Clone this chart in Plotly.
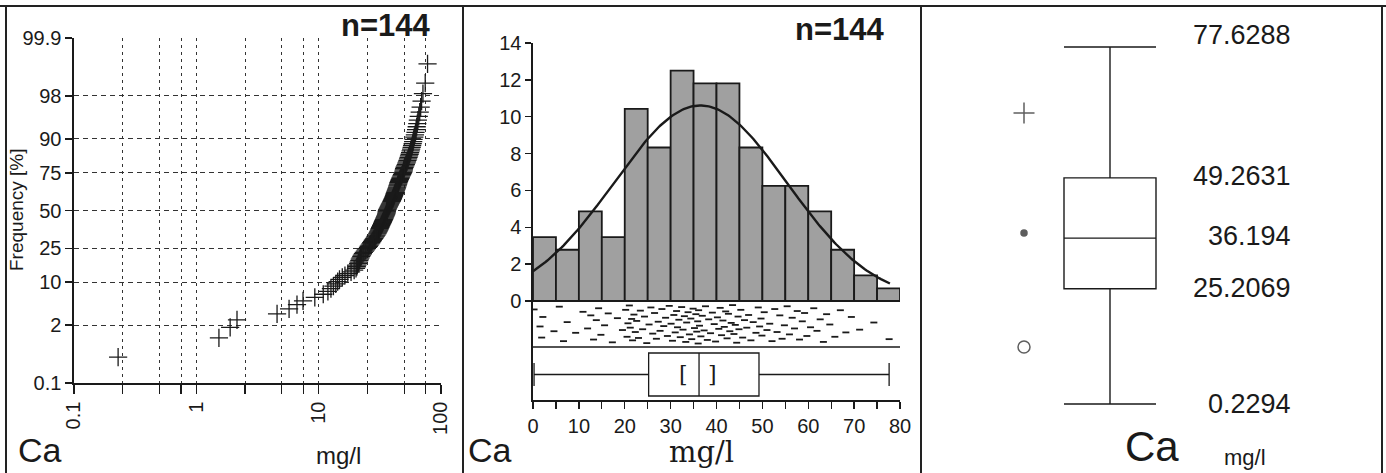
import numpy as np
import plotly.graph_objects as go
from statistics import NormalDist

W, H = 1386, 473

# ---------------- data ----------------
# 144 Ca concentrations (mg/l), read from the probability plot / histogram
ca_values = [
    0.2294, 1.53, 1.89, 2.15, 4.57,
    5.73, 6.65, 7.45, 9.3,
    10.9, 11.9, 12.6, 13.2, 13.8, 14.3, 14.8,
    15.6, 16.4, 17.3, 18.4, 19.5,
    20.2, 20.5, 20.7, 21.0, 21.2, 21.5, 21.7, 22.0, 22.3, 22.6, 23.0, 23.4, 23.9, 24.3, 24.8,
    25.3, 25.7, 26.1, 26.5, 26.9, 27.3, 27.7, 28.1, 28.5, 28.9, 29.3, 29.7,
    30.1, 30.4, 30.7, 31.0, 31.3, 31.5, 31.8, 32.1, 32.4, 32.7, 33.0, 33.3, 33.5, 33.8, 34.1, 34.4, 34.6, 34.9,
    35.2, 35.5, 35.7, 35.9, 36.0, 36.1, 36.29, 36.6, 36.9, 37.3, 37.6, 38.0, 38.3, 38.7, 39.1, 39.5, 39.8,
    40.2, 40.5, 40.8, 41.1, 41.4, 41.7, 42.0, 42.3, 42.6, 42.9, 43.2, 43.5, 43.8, 44.1, 44.4, 44.7, 44.9,
    45.3, 45.7, 46.1, 46.6, 47.0, 47.5, 48.0, 48.6, 49.1, 49.4, 49.7, 49.9,
    50.4, 51.0, 51.6, 52.1, 52.7, 53.2, 53.8, 54.3, 54.8,
    55.4, 55.9, 56.5, 57.0, 57.6, 58.1, 58.7, 59.2, 59.7,
    60.5, 61.2, 61.9, 62.6, 63.3, 64.0, 64.7,
    65.8, 67.0, 68.2, 69.4,
    71.2, 74.3,
    77.6288,
]

# vertical scatter of the dot strip (fraction of strip height)
strip_jitter = [
    0.12, 0.55, 0.83, 0.31, 0.67, 0.05, 0.92, 0.44, 0.71, 0.18,
    0.60, 0.27, 0.88, 0.39, 0.09, 0.76, 0.52, 0.22, 0.95, 0.34,
    0.64, 0.13, 0.81, 0.47, 0.02, 0.58, 0.36, 0.90, 0.25, 0.69,
    0.41, 0.84, 0.15, 0.62, 0.30, 0.97, 0.50, 0.07, 0.73, 0.21,
    0.86, 0.43, 0.66, 0.11, 0.54, 0.33, 0.79, 0.03, 0.48, 0.91,
    0.26, 0.70, 0.16, 0.57, 0.38, 0.82, 0.06, 0.63, 0.29, 0.94,
    0.45, 0.19, 0.75, 0.35, 0.87, 0.10, 0.59, 0.24, 0.68, 0.42,
    0.98, 0.14, 0.53, 0.80, 0.28, 0.65, 0.04, 0.89, 0.37, 0.72,
    0.20, 0.49, 0.93, 0.32, 0.61, 0.08, 0.77, 0.40, 0.56, 0.17,
    0.85, 0.23, 0.67, 0.46, 0.01, 0.74, 0.51, 0.96, 0.30, 0.62,
    0.13, 0.83, 0.39, 0.58, 0.26, 0.90, 0.44, 0.71, 0.07, 0.55,
    0.35, 0.78, 0.19, 0.64, 0.48, 0.92, 0.11, 0.69, 0.27, 0.86,
    0.52, 0.04, 0.75, 0.33, 0.60, 0.16, 0.88, 0.42, 0.21, 0.79,
    0.57, 0.09, 0.66, 0.37, 0.94, 0.24, 0.50, 0.81, 0.14, 0.70,
    0.31, 0.63, 0.45, 0.87,
]

prob_ticks = [0.1, 2, 10, 25, 50, 75, 90, 98, 99.9]
prob_tick_labels = ["0.1", "2", "10", "25", "50", "75", "90", "98", "99.9"]
log_grid = [0.1, 0.25, 0.5, 0.75, 1, 2.5, 5, 7.5, 10, 25, 50, 75, 100]
log_labels = ["0.1", "", "", "", "1", "", "", "", "10", "", "", "", "100"]

bin_left = [0, 5, 10, 15, 20, 25, 30, 35, 40, 45, 50, 55, 60, 65, 70, 75]
hist_pct = [3.47, 2.78, 4.86, 3.47, 10.42, 8.33, 12.5, 11.81,
            11.81, 8.33, 6.25, 6.25, 4.86, 2.78, 1.39, 0.69]
bin_width = 5
hist_yticks = [0, 2, 4, 6, 8, 10, 12, 14]
hist_xticks = [0, 5, 10, 15, 20, 25, 30, 35, 40, 45, 50, 55, 60, 65, 70, 75, 80]
hist_xlabels = ["0", "", "10", "", "20", "", "30", "", "40", "", "50", "", "60", "", "70", "", "80"]

norm_mean = 36.5
norm_sd = 18.8

box_min, box_q1, box_median, box_q3, box_max = 0.2294, 25.2069, 36.194, 49.2631, 77.6288
median_ci = [32.7, 39.1]
side_marker_values = [63.3, 37.3, 12.6]
side_marker_symbols = ["cross-thin-open", "circle", "circle-open"]

n_label = "n=144"
element = "Ca"
unit = "mg/l"

# ---------------- styling ----------------
SANS = "Liberation Sans, Arial, sans-serif"
SERIF = "DejaVu Serif, Liberation Serif, serif"
INK = "#1a1a1a"


def px(x):
    return x / W


def py(y):
    return 1 - y / H


fig = go.Figure()

# ---------- left: probability plot ----------
nd = NormalDist()
vals_sorted = sorted(ca_values)
n = len(vals_sorted)
zpos = [nd.inv_cdf((i + 1 - 0.375) / (n + 0.25)) for i in range(n)]
fig.add_trace(go.Scatter(
    x=vals_sorted, y=zpos, mode="markers", xaxis="x", yaxis="y",
    marker=dict(symbol="cross-thin-open", size=13, color=INK, line=dict(width=1.3, color=INK)),
    hoverinfo="skip"))

zt = [nd.inv_cdf(p / 100) for p in prob_ticks]

# ---------- middle: histogram ----------
centers = [b + bin_width / 2 for b in bin_left]
fig.add_trace(go.Bar(
    x=centers, y=hist_pct, width=bin_width, xaxis="x2", yaxis="y2",
    marker=dict(color="#a0a0a0", line=dict(color=INK, width=1.8)),
    hoverinfo="skip"))

xs = np.linspace(0, 77.8, 200)
dens = 100 * bin_width * np.exp(-0.5 * ((xs - norm_mean) / norm_sd) ** 2) / (norm_sd * np.sqrt(2 * np.pi))
fig.add_trace(go.Scatter(x=xs, y=dens, mode="lines", xaxis="x2", yaxis="y2",
                         line=dict(color=INK, width=2.4), hoverinfo="skip"))

# middle axis geometry (pixel anchors)
mid_zero_px, mid_top_px, mid_bot_px = 301, 43, 400
units_per_px = 14 / (mid_zero_px - mid_top_px)
y2_min = -(mid_bot_px - mid_zero_px) * units_per_px
strip_bottom = -(347 - mid_zero_px) * units_per_px
strip_y = [-0.2 + f * (-2.15) for f in strip_jitter]
fig.add_trace(go.Scatter(
    x=ca_values, y=strip_y, mode="markers", xaxis="x2", yaxis="y2",
    marker=dict(symbol="line-ew", size=5, color=INK, line=dict(width=1.8, color=INK)),
    hoverinfo="skip"))

box_center_mid = -((353 + 396) / 2 - mid_zero_px) * units_per_px
box_h_mid = (396 - 353) * units_per_px
fig.add_trace(go.Box(
    y=[box_center_mid], q1=[box_q1], median=[box_median], q3=[box_q3],
    lowerfence=[box_min], upperfence=[box_max], orientation="h",
    width=box_h_mid, whiskerwidth=0.53, fillcolor="white",
    line=dict(color=INK, width=1.3), xaxis="x2", yaxis="y2",
    boxpoints=False, hoverinfo="skip"))

# ---------- right: box plot ----------
right_left_px = 921
val_px_top, val_px_bot = 47, 404
scale = (val_px_bot - val_px_top) / (box_max - box_min)
y3_min = box_min - (H - val_px_bot) / scale
y3_max = box_min + val_px_bot / scale
fig.add_trace(go.Box(
    x=[1110 - right_left_px], q1=[box_q1], median=[box_median], q3=[box_q3],
    lowerfence=[box_min], upperfence=[box_max],
    width=92, whiskerwidth=1, fillcolor="white",
    line=dict(color=INK, width=1.4), xaxis="x3", yaxis="y3",
    boxpoints=False, hoverinfo="skip"))
fig.add_trace(go.Scatter(
    x=[1024 - right_left_px] * 3, y=side_marker_values, mode="markers",
    xaxis="x3", yaxis="y3",
    marker=dict(symbol=side_marker_symbols, size=[15, 6, 12], color=INK,
                line=dict(width=1.5, color=INK)),
    hoverinfo="skip"))

annotations = []
for v, shift in zip([box_max, box_q3, box_median, box_q1, box_min], [12, 2, 2, 1, 0]):
    annotations.append(dict(x=1293 - right_left_px, y=v, xref="x3", yref="y3",
                            text=str(v), showarrow=False, xanchor="right", yanchor="middle",
                            yshift=shift, font=dict(family=SANS, size=27, color=INK)))
for v, t in zip(median_ci, ["[", "]"]):
    annotations.append(dict(x=v, y=box_center_mid, xref="x2", yref="y2", text=t,
                            showarrow=False, font=dict(family=SERIF, size=22, color=INK)))

# text labels
annotations += [
    dict(x=px(433), y=py(26), xref="paper", yref="paper", text="<b>" + n_label + "</b>",
         showarrow=False, xanchor="right", yanchor="middle", font=dict(family=SANS, size=31, color=INK)),
    dict(x=px(887), y=py(29), xref="paper", yref="paper", text="<b>" + n_label + "</b>",
         showarrow=False, xanchor="right", yanchor="middle", font=dict(family=SANS, size=31, color=INK)),
    dict(x=px(16), y=py(471), xref="paper", yref="paper", text=element,
         showarrow=False, xanchor="left", yanchor="bottom", font=dict(family=SANS, size=34, color=INK)),
    dict(x=px(338), y=py(471), xref="paper", yref="paper", text=unit,
         showarrow=False, xanchor="center", yanchor="bottom", font=dict(family=SANS, size=24, color=INK)),
    dict(x=px(17), y=py(210), xref="paper", yref="paper", text="Frequency [%]", textangle=-90,
         showarrow=False, xanchor="center", yanchor="middle", font=dict(family=SANS, size=19, color=INK)),
    dict(x=px(466), y=py(471), xref="paper", yref="paper", text=element,
         showarrow=False, xanchor="left", yanchor="bottom", font=dict(family=SANS, size=34, color=INK)),
    dict(x=px(701), y=py(471), xref="paper", yref="paper", text=unit,
         showarrow=False, xanchor="center", yanchor="bottom", font=dict(family=SERIF, size=29, color=INK)),
    dict(x=px(1152), y=py(472), xref="paper", yref="paper", text=element,
         showarrow=False, xanchor="center", yanchor="bottom", font=dict(family=SANS, size=42, color=INK)),
    dict(x=px(1245), y=py(472), xref="paper", yref="paper", text=unit,
         showarrow=False, xanchor="center", yanchor="bottom", font=dict(family=SANS, size=22, color=INK)),
]

# panel frame lines
shapes = [
    dict(type="line", xref="paper", yref="paper", x0=0, x1=1, y0=py(6), y1=py(6), line=dict(color="#222", width=2)),
]
for xp in [6, 463, 921, 1382]:
    shapes.append(dict(type="line", xref="paper", yref="paper", x0=px(xp), x1=px(xp), y0=0, y1=py(6),
                       line=dict(color="#222", width=2)))
# histogram baseline and strip separator
shapes.append(dict(type="line", xref="x2", yref="y2", x0=0, x1=80, y0=0, y1=0, line=dict(color=INK, width=1.8)))
shapes.append(dict(type="line", xref="x2", yref="y2", x0=0, x1=80, y0=strip_bottom, y1=strip_bottom,
                   line=dict(color=INK, width=1.4)))

tickfont = dict(family=SANS, size=20, color=INK)

fig.update_layout(
    width=W, height=H, autosize=False,
    margin=dict(l=0, r=0, t=0, b=0, pad=0, autoexpand=False),
    paper_bgcolor="white", plot_bgcolor="rgba(0,0,0,0)",
    showlegend=False, bargap=0,
    annotations=annotations, shapes=shapes,
    xaxis=dict(domain=[px(74), px(441)], anchor="y", type="log", range=[-1, 2],
               tickmode="array", tickvals=log_grid, ticktext=log_labels, tickangle=-90,
               ticks="outside", ticklen=9, tickwidth=1.3, tickcolor=INK, tickfont=tickfont,
               showline=True, linecolor=INK, linewidth=1.6, automargin=False,
               showgrid=True, gridcolor="#333", gridwidth=1, griddash="3px,4px", zeroline=False),
    yaxis=dict(domain=[py(383), py(38)], anchor="x", range=[zt[0], zt[-1]],
               tickmode="array", tickvals=zt, ticktext=prob_tick_labels,
               ticks="outside", ticklen=7, tickwidth=1.3, tickcolor=INK, tickfont=tickfont,
               showline=True, linecolor=INK, linewidth=1.6, automargin=False,
               showgrid=True, gridcolor="#333", gridwidth=1, griddash="5px,4px", zeroline=False),
    xaxis2=dict(domain=[px(533), px(900)], anchor="y2", range=[0, 80],
                tickmode="array", tickvals=hist_xticks, ticktext=hist_xlabels,
                ticks="outside", ticklen=7, tickwidth=1.3, tickcolor=INK, tickfont=tickfont,
                showline=True, linecolor=INK, linewidth=1.6, showgrid=False, zeroline=False,
                automargin=False),
    yaxis2=dict(domain=[py(mid_bot_px), py(mid_top_px)], anchor="x2", range=[y2_min, 14],
                tickmode="array", tickvals=hist_yticks,
                ticks="outside", ticklen=6, tickwidth=1.3, tickcolor=INK, tickfont=tickfont,
                showline=True, linecolor=INK, linewidth=1.6, showgrid=False, zeroline=False,
                automargin=False),
    xaxis3=dict(domain=[px(right_left_px), 1.0], anchor="y3", range=[0, W - right_left_px], visible=False),
    yaxis3=dict(domain=[0, 1], anchor="x3", range=[y3_min, y3_max], visible=False),
)

fig.write_html(
    "out.html",
    config={"displayModeBar": False, "staticPlot": True},
    post_script="document.body.style.margin='0';document.body.style.overflow='hidden';",
)
